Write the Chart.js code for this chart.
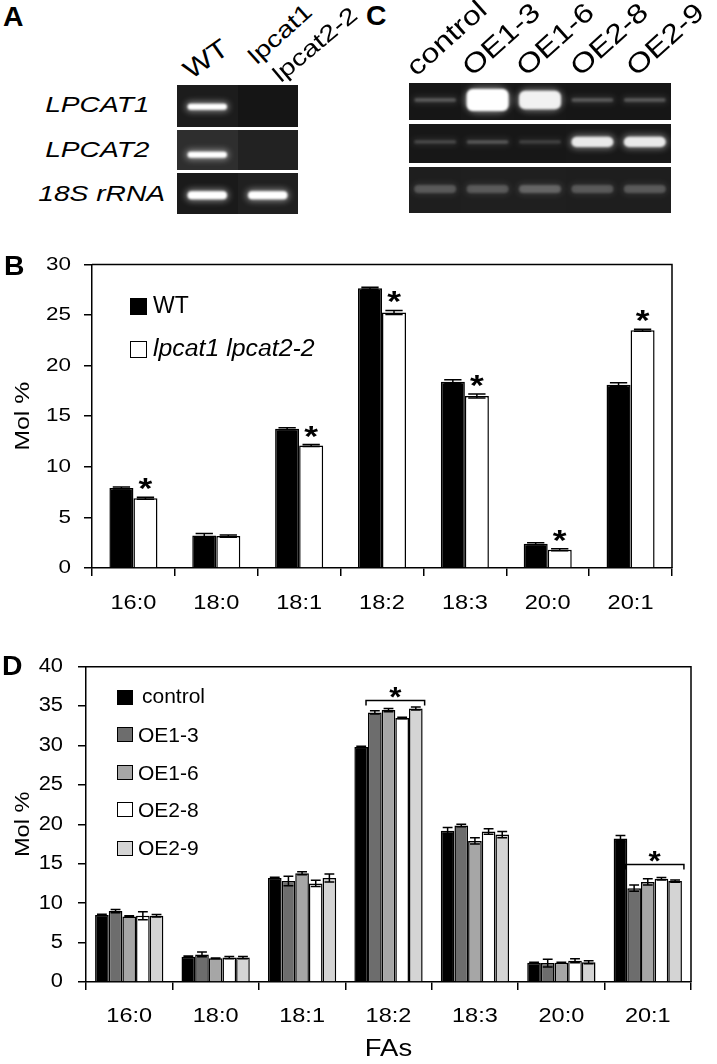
<!DOCTYPE html>
<html>
<head>
<meta charset="utf-8">
<script src="https://cdn.jsdelivr.net/npm/chart.js@4.4.1/dist/chart.umd.min.js"></script>
<style>
html, body { margin: 0; padding: 0; background: #fff; }
#fig { position: relative; width: 717px; height: 1064px; overflow: hidden;
       font-family: "Liberation Sans", Arial, sans-serif; color: #000; }
.t { position: absolute; white-space: nowrap; line-height: 1; }
.sw { position: absolute; box-sizing: border-box; border: 1.5px solid #000; }
canvas { position: absolute; }
</style>
</head>
<body>
<div id="fig">
  <canvas id="gelA" width="121" height="129" style="left:177px;top:85px"></canvas>
  <canvas id="gelC" width="262" height="130" style="left:409px;top:83px"></canvas>
  <canvas id="chartB" width="717" height="400" style="left:0;top:240px"></canvas>
  <canvas id="chartD" width="717" height="424" style="left:0;top:640px"></canvas>
</div>
<script>
// ---- data ----
const fattyAcids = ['16:0', '18:0', '18:1', '18:2', '18:3', '20:0', '20:1'];

// panel A: RT-PCR
const gelAGenes = ['LPCAT1', 'LPCAT2', '18S rRNA'];
const gelALanes = ['WT', 'lpcat1', 'lpcat2-2'];
const gelABands = [[1, 0], [1, 0], [1, 1]];

// panel C: RT-PCR of overexpressors
const lines = ['control', 'OE1-3', 'OE1-6', 'OE2-8', 'OE2-9'];
const gelCBands = [
    [0.22, 1.0, 0.9, 0.22, 0.22],
    [0.18, 0.22, 0.15, 0.85, 0.85],
    [0.2, 0.2, 0.24, 0.2, 0.2]
];

// panel B: mol % in WT vs double mutant
const wtMol = [7.9, 3.2, 13.75, 27.65, 18.4, 2.4, 18.1];
const wtErr = [0.1, 0.2, 0.1, 0.1, 0.2, 0.1, 0.2];
const mutMol = [6.9, 3.15, 12.1, 25.25, 17.0, 1.8, 23.5];
const mutErr = [0.1, 0.1, 0.1, 0.2, 0.2, 0.1, 0.1];
const mutStar = [true, false, true, true, true, true, true];

// panel D: mol % in overexpressors
const controlMol = [8.5, 3.2, 13.2, 29.8, 19.2, 2.45, 18.2];
const oe13Mol = [9.0, 3.5, 12.8, 34.2, 19.85, 2.4, 11.9];
const oe16Mol = [8.3, 3.0, 13.8, 34.5, 17.9, 2.45, 12.7];
const oe28Mol = [8.4, 3.1, 12.5, 33.5, 19.1, 2.7, 13.1];
const oe29Mol = [8.4, 3.1, 13.2, 34.7, 18.7, 2.5, 12.8];
const controlErr = [0.1, 0.1, 0.1, 0.1, 0.4, 0.05, 0.4];
const oe13Err = [0.2, 0.3, 0.6, 0.2, 0.15, 0.5, 0.4];
const oe16Err = [0.1, 0.05, 0.2, 0.2, 0.4, 0.05, 0.4];
const oe28Err = [0.5, 0.15, 0.4, 0.1, 0.35, 0.25, 0.15];
const oe29Err = [0.15, 0.15, 0.5, 0.2, 0.4, 0.2, 0.15];
const bracketCats = ['18:2', '20:1'];
const bracketLevels = [35.8, 15.0];

const FONT = '"Liberation Sans", Arial, sans-serif';
Chart.defaults.font.family = FONT;
Chart.defaults.color = '#000';

const fig = document.getElementById('fig');

// text helper: (x, y) is the left (or right) end of the baseline
function addText(text, x, y, o = {}) {
    const el = document.createElement('div');
    el.className = 't';
    el.textContent = text;
    const size = o.size || 20;
    el.style.fontSize = size + 'px';
    if (o.italic) el.style.fontStyle = 'italic';
    if (o.bold) el.style.fontWeight = 'bold';
    el.style.top = (y - size * 0.85) + 'px';
    if (o.align === 'right') {
        el.style.right = (717 - x) + 'px';
        el.style.transformOrigin = '100% 85%';
    } else {
        el.style.left = x + 'px';
        el.style.transformOrigin = '0 85%';
    }
    el.style.transform = (o.rot ? `rotate(${o.rot}deg) ` : '') + `scaleX(${o.sx || 1})`;
    fig.appendChild(el);
}

function addSwatch(x, y, w, h, color) {
    const el = document.createElement('div');
    el.className = 'sw';
    Object.assign(el.style, { left: x + 'px', top: y + 'px', width: w + 'px', height: h + 'px', background: color });
    fig.appendChild(el);
}

// ---- panel letters ----
addText('A', 3, 27, { size: 27, bold: true, sx: 1.05 });
addText('C', 366, 26, { size: 27, bold: true, sx: 1.05 });
addText('B', 4, 276, { size: 27, bold: true, sx: 1.05 });
addText('D', 2, 676, { size: 27, bold: true, sx: 1.05 });

// ---- gels ----
function drawBand(g, cx, cy, w, h, v) {
    g.save();
    g.filter = 'blur(3px)';
    g.fillStyle = `rgba(255,255,255,${Math.min(0.6, v * 0.45)})`;
    g.beginPath();
    g.roundRect(cx - w / 2 - 2, cy - h / 2 - 2, w + 4, h + 4, (h + 4) / 2);
    g.fill();
    g.filter = 'blur(1px)';
    g.fillStyle = `rgba(255,255,255,${Math.min(1, v)})`;
    g.beginPath();
    g.roundRect(cx - w / 2, cy - h / 2, w, h, Math.min(h / 2, 6));
    g.fill();
    g.restore();
}

function drawGel(id, bands, rows, bg, bandW, maxH, minH) {
    const cv = document.getElementById(id);
    const g = cv.getContext('2d');
    const nLanes = bands[0].length;
    const laneW = cv.width / nLanes;
    rows.forEach(([top, h, mid], r) => {
        for (let l = 0; l < nLanes; l++) {
            g.fillStyle = bg[r][l];
            g.fillRect(Math.round(l * laneW), top, Math.ceil(laneW) + 1, h);
        }
        g.save();
        g.beginPath();
        g.rect(0, top, cv.width, h);
        g.clip();
        bands[r].forEach((v, l) => {
            if (v <= 0) return;
            const bh = Math.max(minH[r], 3 + (maxH[r] - 3) * v * v);
            drawBand(g, (l + 0.5) * laneW, top + h * mid, laneW * bandW, bh, v);
        });
        g.restore();
    });
}

drawGel('gelA', gelABands,
    [[0, 42, 0.52], [45, 40, 0.62], [88, 41, 0.54]],
    [['#1c1c1c', '#151515'], ['#2e2e2e', '#222'], ['#1a1a1a', '#202020']],
    0.65, [6, 6, 8], [5, 5, 7]);

drawGel('gelC', gelCBands,
    [[0, 37, 0.46], [41, 39, 0.46], [84, 46, 0.48]],
    [['#161616', '#181818', '#171717', '#161616', '#161616'],
     ['#171717', '#171717', '#171717', '#181818', '#181818'],
     ['#1e1e1e', '#1f1f1f', '#1f1f1f', '#1e1e1e', '#1e1e1e']],
    0.8, [22, 13, 8], [3, 3, 8]);

// gel labels
const geneRight = [150, 150, 165];
const geneBase = [113, 158, 202];
gelAGenes.forEach((g, i) => addText(g, geneRight[i], geneBase[i], { size: 22, italic: true, sx: 1.28, align: 'right' }));
addText(gelALanes[0], 191, 80, { size: 26, sx: 1.2, rot: -35 });
addText(gelALanes[1], 257, 66, { size: 23, sx: 1.25, rot: -42 });
addText(gelALanes[2], 281, 84, { size: 23, sx: 1.25, rot: -40 });
const laneX = [417, 473, 527, 581, 637];
lines.forEach((n, i) => addText(n, laneX[i], 78, { size: 27, sx: 1.2, rot: -42 }));

// ---- legends ----
addSwatch(130, 298, 17, 17, '#000');
addSwatch(130, 341, 17, 17, '#fff');
addText('WT', 153, 314, { size: 23, sx: 1.0 });
addText('lpcat1 lpcat2-2', 153, 357, { size: 23, italic: true, sx: 1.08 });

const dColors = ['#000000', '#6d6d6d', '#a6a6a6', '#ffffff', '#d4d4d4'];
const legTop = [690, 727, 765, 802, 841];
const legBase = [703, 742, 780, 817, 855];
lines.forEach((n, i) => {
    addSwatch(117, legTop[i], 16, 15, dColors[i]);
    addText(n, i === 0 ? 142 : 138, legBase[i], { size: 21 });
});

// ---- chart plugins ----
function stretchPlugin(sx) {
    return {
        id: 'stretch',
        beforeInit(chart) {
            const ctx = chart.ctx;
            ctx.fillText = function (t, x, y) {
                this.save();
                this.translate(x, y);
                this.scale(sx, 1);
                CanvasRenderingContext2D.prototype.fillText.call(this, t, 0, 0);
                this.restore();
            };
        }
    };
}

const framePlugin = {
    id: 'frame',
    afterDatasetsDraw(chart) {
        const { ctx, chartArea: a } = chart;
        ctx.save();
        ctx.strokeStyle = '#000';
        ctx.lineWidth = 1.5;
        ctx.beginPath();
        ctx.moveTo(a.left, a.top);
        ctx.lineTo(a.right, a.top);
        ctx.lineTo(a.right, a.bottom);
        ctx.stroke();
        ctx.restore();
    }
};

const errorBarPlugin = {
    id: 'errorBars',
    afterDatasetsDraw(chart) {
        const { ctx } = chart;
        const y = chart.scales.y;
        ctx.save();
        ctx.strokeStyle = '#000';
        ctx.lineWidth = 1.5;
        chart.data.datasets.forEach((ds, i) => {
            if (!ds.errors) return;
            chart.getDatasetMeta(i).data.forEach((bar, j) => {
                const v = ds.data[j], e = ds.errors[j];
                const top = y.getPixelForValue(v + e), bot = y.getPixelForValue(v - e);
                const half = bar.width * 0.36;
                ctx.beginPath();
                ctx.moveTo(bar.x, top); ctx.lineTo(bar.x, bot);
                ctx.moveTo(bar.x - half, top); ctx.lineTo(bar.x + half, top);
                ctx.moveTo(bar.x - half, bot); ctx.lineTo(bar.x + half, bot);
                ctx.stroke();
            });
        });
        ctx.restore();
    }
};

const starPlugin = {
    id: 'stars',
    afterDatasetsDraw(chart) {
        const { ctx } = chart;
        const y = chart.scales.y;
        ctx.save();
        ctx.fillStyle = '#000';
        ctx.font = 'bold 30px ' + FONT;
        ctx.textAlign = 'center';
        ctx.textBaseline = 'alphabetic';
        chart.data.datasets.forEach((ds, i) => {
            if (!ds.stars) return;
            chart.getDatasetMeta(i).data.forEach((bar, j) => {
                if (!ds.stars[j]) return;
                const top = y.getPixelForValue(ds.data[j] + (ds.errors ? ds.errors[j] : 0));
                ctx.fillText('*', bar.x, top + 1);
            });
        });
        ctx.restore();
    }
};

const bracketPlugin = {
    id: 'brackets',
    afterDatasetsDraw(chart) {
        const { ctx } = chart;
        const y = chart.scales.y;
        const first = chart.getDatasetMeta(1).data;
        const last = chart.getDatasetMeta(4).data;
        ctx.save();
        ctx.strokeStyle = '#000';
        ctx.fillStyle = '#000';
        ctx.lineWidth = 1.5;
        ctx.font = 'bold 28px ' + FONT;
        ctx.textAlign = 'center';
        bracketCats.forEach((c, k) => {
            const j = fattyAcids.indexOf(c);
            const x0 = first[j].x - first[j].width / 2 - 2;
            const x1 = last[j].x + last[j].width / 2 + 2;
            const yy = Math.round(y.getPixelForValue(bracketLevels[k])) + 0.5;
            ctx.beginPath();
            ctx.moveTo(x0, yy + 5); ctx.lineTo(x0, yy); ctx.lineTo(x1, yy); ctx.lineTo(x1, yy + 5);
            ctx.stroke();
            ctx.fillText('*', (x0 + x1) / 2, yy + 5);
        });
        ctx.restore();
    }
};

function axisStyle() {
    return {
        border: { color: '#000', width: 1.5 },
        grid: { drawOnChartArea: false, color: '#000', lineWidth: 1.5, tickLength: 8 }
    };
}

// ---- chart B ----
new Chart(document.getElementById('chartB'), {
    type: 'bar',
    data: {
        labels: fattyAcids,
        datasets: [
            { label: 'WT', data: wtMol, errors: wtErr, backgroundColor: '#000', borderColor: '#000', borderWidth: 1.5 },
            { label: 'lpcat1 lpcat2-2', data: mutMol, errors: mutErr, stars: mutStar, backgroundColor: '#fff', borderColor: '#000', borderWidth: 1.5 }
        ]
    },
    options: {
        responsive: false,
        animation: false,
        devicePixelRatio: 1,
        layout: { padding: { top: 24, right: 45, left: 0, bottom: 0 } },
        datasets: { bar: { categoryPercentage: 0.58, barPercentage: 1 } },
        plugins: { legend: { display: false }, tooltip: { enabled: false } },
        scales: {
            x: {
                ...axisStyle(),
                ticks: { font: { size: 20 }, padding: 15, autoSkip: false, maxRotation: 0 },
                afterFit(s) { s.height = 72; }
            },
            y: {
                ...axisStyle(),
                min: 0, max: 30,
                ticks: { stepSize: 5, font: { size: 19 }, padding: 13 },
                title: { display: true, text: 'Mol %', font: { size: 21 }, padding: { top: 11, bottom: 0 } },
                afterFit(s) { s.width = 92; }
            }
        }
    },
    plugins: [stretchPlugin(1.18), framePlugin, errorBarPlugin, starPlugin]
});

// ---- chart D ----
const dSeries = [controlMol, oe13Mol, oe16Mol, oe28Mol, oe29Mol];
const dErrors = [controlErr, oe13Err, oe16Err, oe28Err, oe29Err];
new Chart(document.getElementById('chartD'), {
    type: 'bar',
    data: {
        labels: fattyAcids,
        datasets: lines.map((n, i) => ({
            label: n, data: dSeries[i], errors: dErrors[i],
            backgroundColor: dColors[i], borderColor: '#000', borderWidth: 1.5
        }))
    },
    options: {
        responsive: false,
        animation: false,
        devicePixelRatio: 1,
        layout: { padding: { top: 23, right: 26, left: 0, bottom: 0 } },
        datasets: { bar: { categoryPercentage: 0.79, barPercentage: 1 } },
        plugins: { legend: { display: false }, tooltip: { enabled: false } },
        scales: {
            x: {
                ...axisStyle(),
                ticks: { font: { size: 21 }, padding: 14, autoSkip: false, maxRotation: 0 },
                title: { display: true, text: 'FAs', font: { size: 24.5 }, padding: { top: 0, bottom: 0 } },
                afterFit(s) { s.height = 82; }
            },
            y: {
                ...axisStyle(),
                min: 0, max: 40,
                ticks: { stepSize: 5, font: { size: 19.5 }, padding: 15 },
                title: { display: true, text: 'Mol %', font: { size: 21 }, padding: { top: 11, bottom: 0 } },
                afterFit(s) { s.width = 86; }
            }
        }
    },
    plugins: [stretchPlugin(1.12), framePlugin, errorBarPlugin, bracketPlugin]
});
</script>
</body>
</html>
